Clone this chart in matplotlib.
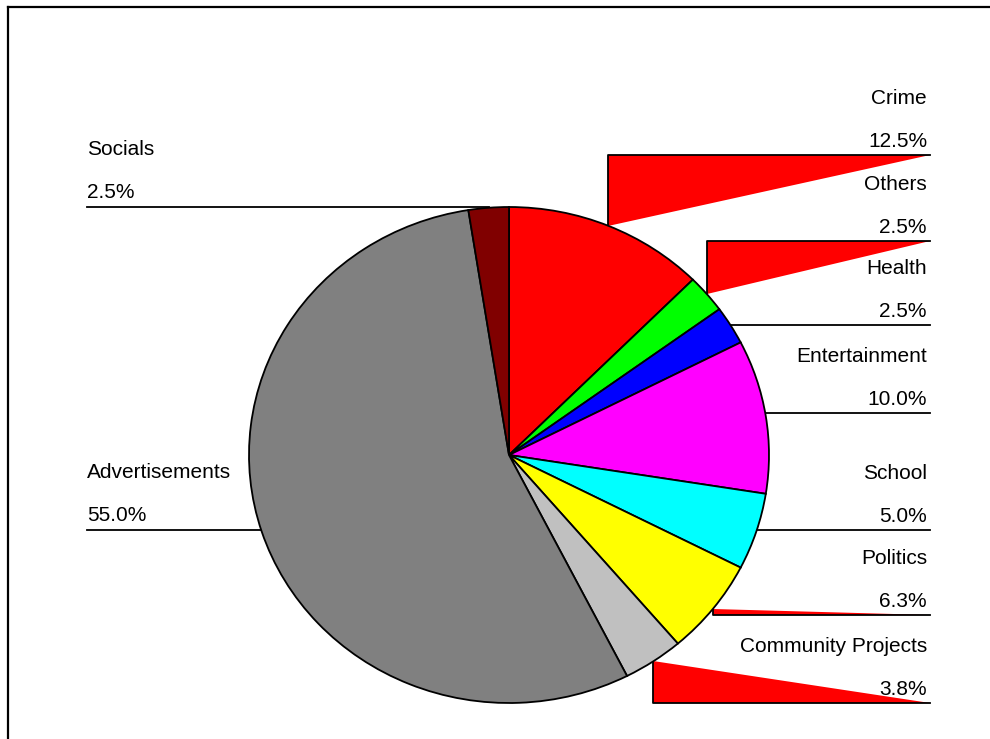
import matplotlib
matplotlib.use("Agg")
import matplotlib.pyplot as plt
import matplotlib.transforms as mtransforms
import numpy as np
from decimal import Decimal, ROUND_HALF_UP

plt.rcParams['font.family'] = ['Liberation Sans', 'DejaVu Sans']

# data (counts out of 80 -> percentages shown)
categories = ["Crime", "Others", "Health", "Entertainment", "School",
              "Politics", "Community Projects", "Advertisements", "Socials"]
counts = [10, 2, 2, 8, 4, 5, 3, 44, 2]
colors = ["#FF0000", "#00FF00", "#0000FF", "#FF00FF", "#00FFFF",
          "#FFFF00", "#C0C0C0", "#808080", "#800000"]

# label layout (pixel rows of the underline for each label)
label_y = [155, 241, 325, 413, 530, 615, 703, 530, 207]
label_side = ["r", "r", "r", "r", "r", "r", "r", "l", "l"]

W, H = 990, 739
cx, cy = 509, 455
rx, ry = 260, 248
right_end = 930
left_start = 87


def fmt_pct(c, tot):
	# round half up like the original chart (6.25 -> 6.3)
	v = Decimal(c * 1000) / Decimal(tot) / Decimal(10)
	return str(v.quantize(Decimal("0.1"), rounding=ROUND_HALF_UP)) + "%"


fig = plt.figure(figsize=(W / 100, H / 100), dpi=100)
ax = fig.add_axes([0, 0, 1, 1])

wedges, _ = ax.pie(counts, colors=colors, startangle=90, counterclock=False,
                   radius=1, center=(0, 0),
                   wedgeprops=dict(edgecolor="black", linewidth=1.3))
ax.set_xlim(0, W)
ax.set_ylim(H, 0)
ax.set_aspect("auto")
ax.axis("off")

tr = mtransforms.Affine2D().scale(rx, -ry).translate(cx, cy) + ax.transData
for w in wedges:
    w.set_transform(tr)
    w.set_zorder(3)

total = sum(counts)
for i, w in enumerate(wedges):
    mid = np.deg2rad((w.theta1 + w.theta2) / 2.0)
    ex = cx + rx * np.cos(mid)
    ey = cy - ry * np.sin(mid)
    ly = label_y[i]
    pct = fmt_pct(counts[i], total)
    if label_side[i] == "r":
        if abs(ey - ly) > 5:
            ax.fill([ex, ex, right_end], [ey, ly, ly], color="#FF0000",
                    linewidth=0, zorder=1)
            ax.plot([ex, ex, right_end], [ey, ly, ly], color="black",
                    lw=1.3, zorder=2)
        else:
            ax.plot([ex, right_end], [ly, ly], color="black", lw=1.3, zorder=2)
        ax.text(right_end - 3, ly - 8, pct, ha="right", va="baseline",
                fontsize=15)
        ax.text(right_end - 3, ly - 51, categories[i], ha="right",
                va="baseline", fontsize=15)
    else:
        ax.plot([left_start, ex], [ly, ly], color="black", lw=1.3, zorder=2)
        ax.text(left_start, ly - 9, pct, ha="left", va="baseline",
                fontsize=15)
        ax.text(left_start, ly - 52, categories[i], ha="left",
                va="baseline", fontsize=15)

# outer frame (runs off the right and bottom of the picture)
ax.plot([8, W + 5], [7, 7], color="black", lw=1.6, zorder=4)
ax.plot([8, 8], [7, H + 5], color="black", lw=1.6, zorder=4)

fig.savefig("out.png", dpi=100)
